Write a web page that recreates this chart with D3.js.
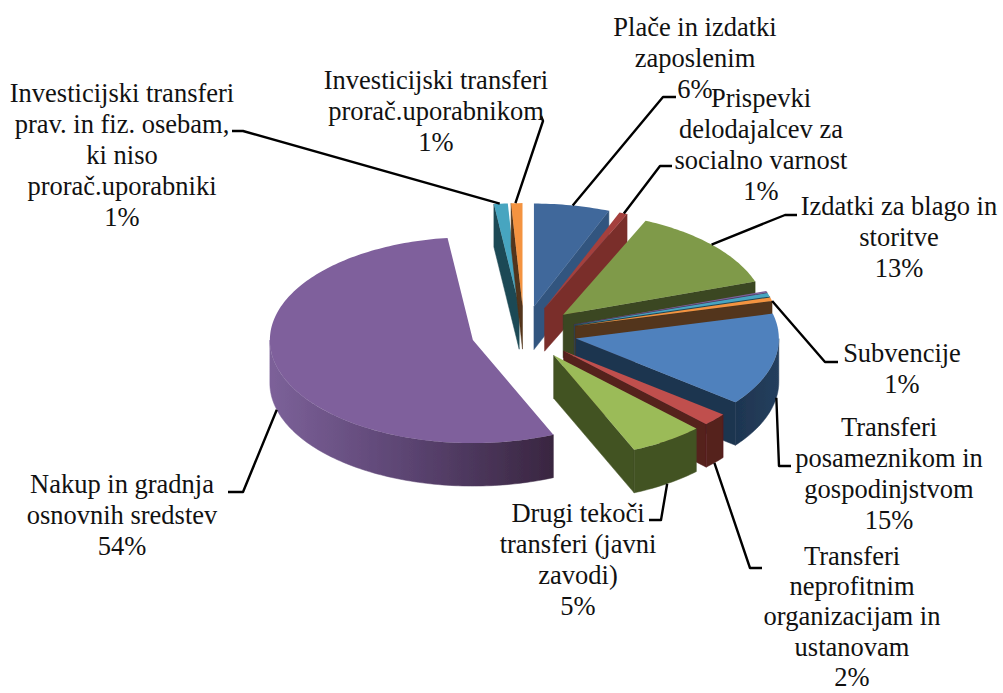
<!DOCTYPE html>
<html><head><meta charset="utf-8">
<script src="https://cdn.jsdelivr.net/npm/d3@7/dist/d3.min.js"></script>
<style>html,body{margin:0;padding:0;background:#fff}svg{display:block}
text{font-family:"Liberation Serif","Times New Roman",serif;font-size:26.5px;fill:#111;text-anchor:middle;dominant-baseline:central}</style>
</head><body><svg id="c" width="1003" height="693"></svg>
<script>
const categories = ["Plače in izdatki zaposlenim","Prispevki delodajalcev za socialno varnost","Izdatki za blago in storitve","(neoznačeno A)","(neoznačeno B)","Subvencije","Transferi posameznikom in gospodinjstvom","Transferi neprofitnim organizacijam in ustanovam","Drugi tekoči transferi (javni zavodi)","Nakup in gradnja osnovnih sredstev","Investicijski transferi prav. in fiz. osebam, ki niso prorač.uporabniki","Investicijski transferi prorač.uporabnikom"];
const values = [6.05,0.65,13.15,0.2,0.6,0.55,14.6,2.0,5.95,54.8,1.1,0.9];
const topColors = ["#41689b","#a43f3c","#7f9a48","#7a5f99","#46a5c0","#f4933f","#4f81bd","#c0504d","#9bbb59","#7f609c","#46a5c0","#f4933f"];
const faceColors = ["#33557f","#7a2e2c","#3a4620","#4a3560","#1f4a55","#53341a","#1f3550","#55201e","#435224","#3d2a48","#1f4a55","#53341a"];
const drawOrder = [10,11,0,1,2,3,4,5,6,7,8,9];

// label text lines, placed by centre x and first line centre y
const labels = [
 {lines:["Plače in izdatki","zaposlenim","6%"],x:695,y:27},
 {lines:["Prispevki","delodajalcev za","socialno varnost","1%"],x:761,y:98},
 {lines:["Izdatki za blago in","storitve","13%"],x:899,y:206},
 {lines:["Subvencije","1%"],x:902,y:353},
 {lines:["Transferi","posameznikom in","gospodinjstvom","15%"],x:889,y:427},
 {lines:["Transferi","neprofitnim","organizacijam in","ustanovam","2%"],x:852,y:556,step:30.2},
 {lines:["Drugi tekoči","transferi (javni","zavodi)","5%"],x:578,y:513},
 {lines:["Nakup in gradnja","osnovnih sredstev","54%"],x:122,y:484},
 {lines:["Investicijski transferi","prav. in fiz. osebam,","ki niso","prorač.uporabniki","1%"],x:122,y:93},
 {lines:["Investicijski transferi","prorač.uporabnikom","1%"],x:436,y:80}
];
// leader lines: slice index, angle (deg) where it touches the slice, on wall or not, then elbow and end
const leaders = [
 {i:0,deg:11,wall:0,pts:[[663,97],[676,97]]},
 {i:1,deg:23,wall:0,pts:[[660,166],[672,166]]},
 {i:2,deg:47,wall:0,pts:[[785,215],[797,215]]},
 {i:5,deg:76,wall:0,pts:[[825,362],[838,362]]},
 {i:6,deg:99,wall:1,pts:[[779,466],[791,466]]},
 {i:7,deg:132,wall:1,pts:[[750,568],[762,568]]},
 {i:8,deg:146,wall:1,pts:[[661,520],[649,520]]},
 {i:9,deg:255,wall:1,pts:[[243,492],[228,492]]},
 {i:10,deg:354.5,wall:0,pts:[[243,131],[232,131]]},
 {i:11,deg:358,wall:0,pts:[[543,121],[541,116]]}
];

const cx=524, cy=333, rx=203, ry=103, k=ry/rx, explode=53, depth=43;
const svg=d3.select("#c");
const rad=d=>d*Math.PI/180;
const pie=d3.pie().sort(null).value(d=>d).startAngle(0).endAngle(2*Math.PI);
const arcs=pie(values).map((a,i)=>{
  const mid=(a.startAngle+a.endAngle)/2;
  return {i,a0:a.startAngle,a1:a.endAngle,ox:cx+explode*Math.sin(mid),oy:cy-explode*k*Math.cos(mid)};
});
const px=(s,t)=>[s.ox+rx*Math.sin(t),s.oy-ry*Math.cos(t)];
const line=d3.line();
const arcPts=(s,t0,t1)=>{const n=Math.max(2,Math.ceil((t1-t0)/0.02));return d3.range(n+1).map(j=>px(s,t0+(t1-t0)*j/n));};
const down=p=>[p[0],p[1]+depth];

const defs=svg.append("defs");
const grad=defs.append("linearGradient").attr("id","wallP").attr("gradientUnits","userSpaceOnUse").attr("x1",270).attr("x2",557).attr("y1",0).attr("y2",0);
grad.append("stop").attr("offset",0).attr("stop-color","#7c6199");
grad.append("stop").attr("offset",0.5).attr("stop-color","#5a4370");
grad.append("stop").attr("offset",1).attr("stop-color","#38253f");
const gradB=defs.append("linearGradient").attr("id","wallB").attr("gradientUnits","userSpaceOnUse").attr("x1",780).attr("x2",735).attr("y1",0).attr("y2",0);
gradB.append("stop").attr("offset",0).attr("stop-color","#253f5e");
gradB.append("stop").attr("offset",1).attr("stop-color","#1e3550");
const blur=defs.append("filter").attr("id","soft").attr("x","-5%").attr("y","-5%").attr("width","110%").attr("height","110%");
blur.append("feGaussianBlur").attr("stdDeviation",0.5);

const pieG=svg.append("g").attr("filter","url(#soft)");
const lineG=svg.append("g").attr("filter","url(#soft)");
const textG=svg.append("g");
drawOrder.forEach(idx=>{
  const s=arcs[idx], g=pieG.append("g");
  const face=faceColors[idx];
  const apex=[s.ox,s.oy];
  const quad=t=>{const e=px(s,t);return line([apex,e,down(e),down(apex)])+"Z";};
  const deg0=s.a0*180/Math.PI, deg1=s.a1*180/Math.PI;
  if(deg0>180) g.append("path").attr("d",quad(s.a0)).attr("fill",face).attr("stroke",face).attr("stroke-width",.5);
  if(deg1<180) g.append("path").attr("d",quad(s.a1)).attr("fill",face).attr("stroke",face).attr("stroke-width",.5);
  const w0=Math.max(s.a0,rad(90)), w1=Math.min(s.a1,rad(270));
  if(w1>w0){
    const top=arcPts(s,w0,w1);
    const fill=idx===9?"url(#wallP)":idx===6?"url(#wallB)":face;
    g.append("path").attr("d",line(top.concat(top.map(down).reverse()))+"Z").attr("fill",fill).attr("stroke",fill).attr("stroke-width",.5);
  }
  g.append("path").attr("d",line([apex].concat(arcPts(s,s.a0,s.a1)))+"Z").attr("fill",topColors[idx]);
});
leaders.forEach(l=>{
  const s=arcs[l.i]; let p=px(s,rad(l.deg)); if(l.wall) p=down(p);
  lineG.append("path").attr("d",line([p].concat(l.pts))).attr("fill","none").attr("stroke","#000").attr("stroke-width",2.4).attr("stroke-linejoin","round");
});
labels.forEach(l=>{
  l.lines.forEach((t,j)=>{
    textG.append("text").attr("x",l.x).attr("y",l.y+j*(l.step||30.9)).text(t);
  });
});
</script></body></html>
